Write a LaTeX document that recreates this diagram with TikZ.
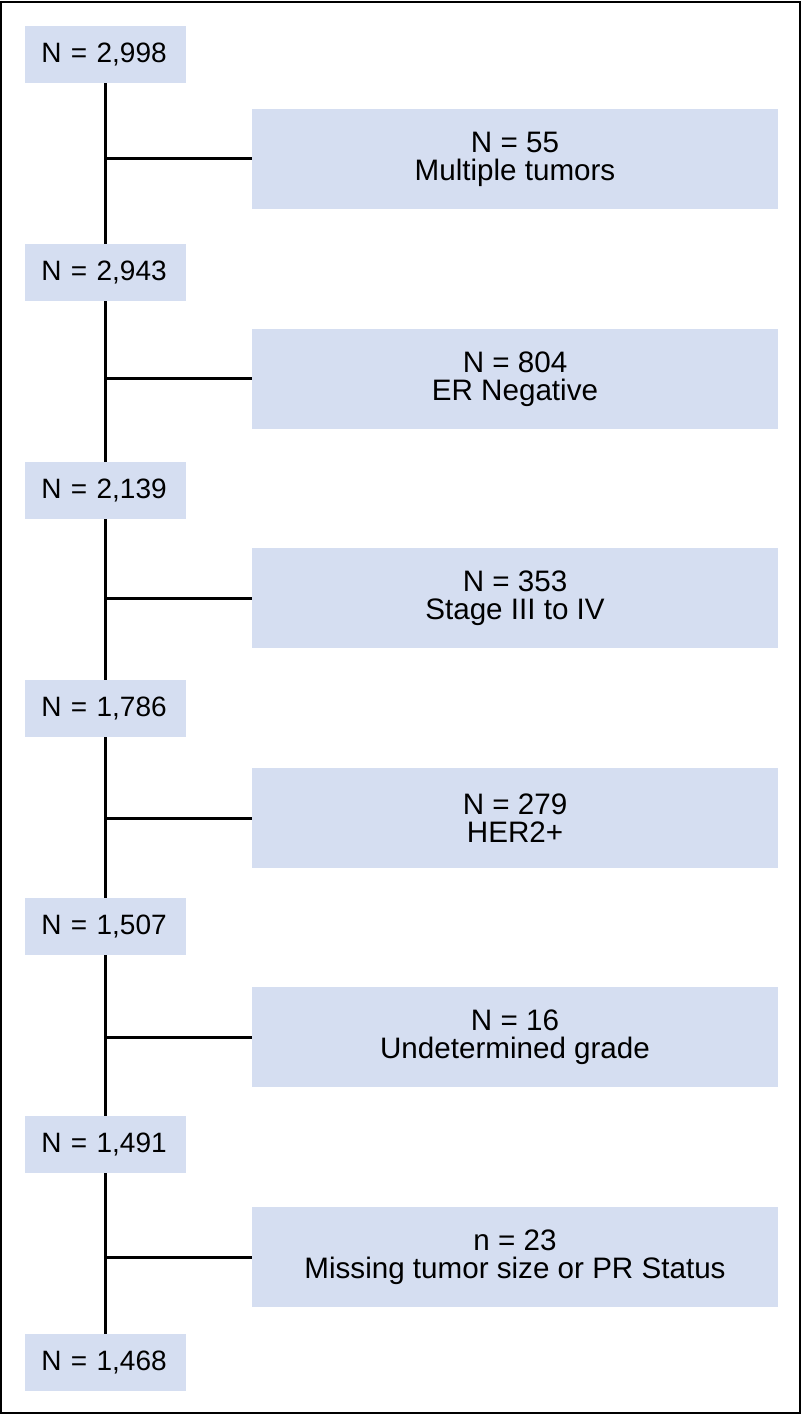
\documentclass[tikz,border=0pt]{standalone}
\usepackage{fontspec}
\setmainfont{Liberation Sans}
\usetikzlibrary{positioning}
\definecolor{boxblue}{RGB}{213,222,241}
\tikzset{
    lbox/.style={fill=boxblue, anchor=west, minimum height=28.5pt, text width=64.5pt, inner xsep=8pt, inner ysep=0pt, align=left, font=\fontsize{14}{13}\selectfont},
    rbox/.style={fill=boxblue, minimum width=263pt, minimum height=50pt, inner sep=0pt, align=center, font=\fontsize{14.8}{14}\selectfont},
    trunk/.style={line width=1.5pt},
}
\begin{document}
\begin{tikzpicture}[x=0.5pt, y=-0.5pt]
        \useasboundingbox (0,0) rectangle (804,1416);
        \draw [line width=1pt] (1,2) rectangle (800,1413);
        \node [lbox] (n1) at (25,54.5) {N = 2,998};
        \node [lbox] (n2) at (25,272.5) {N = 2,943};
        \node [lbox] (n3) at (25,490.5) {N = 2,139};
        \node [lbox] (n4) at (25,708.5) {N = 1,786};
        \node [lbox] (n5) at (25,926.5) {N = 1,507};
        \node [lbox] (n6) at (25,1144.5) {N = 1,491};
        \node [lbox] (n7) at (25,1362.5) {N = 1,468};
        \node [rbox] (x1) at (515,159) {N = 55\\Multiple tumors};
        \node [rbox] (x2) at (515,379) {N = 804\\ER Negative};
        \node [rbox] (x3) at (515,598) {N = 353\\Stage III to IV};
        \node [rbox] (x4) at (515,818) {N = 279\\HER2+};
        \node [rbox] (x5) at (515,1037) {N = 16\\Undetermined grade};
        \node [rbox] (x6) at (515,1257) {n = 23\\Missing tumor size or PR Status};
        \coordinate (t) at (105,0);
        \draw [trunk] (n1.south -| t) -- (n2.north -| t);
        \draw [trunk] (n2.south -| t) -- (n3.north -| t);
        \draw [trunk] (n3.south -| t) -- (n4.north -| t);
        \draw [trunk] (n4.south -| t) -- (n5.north -| t);
        \draw [trunk] (n5.south -| t) -- (n6.north -| t);
        \draw [trunk] (n6.south -| t) -- (n7.north -| t);
        \draw [trunk] (x1.west) -- (x1.west -| t);
        \draw [trunk] (x2.west) -- (x2.west -| t);
        \draw [trunk] (x3.west) -- (x3.west -| t);
        \draw [trunk] (x4.west) -- (x4.west -| t);
        \draw [trunk] (x5.west) -- (x5.west -| t);
        \draw [trunk] (x6.west) -- (x6.west -| t);
    \end{tikzpicture}
\end{document}
